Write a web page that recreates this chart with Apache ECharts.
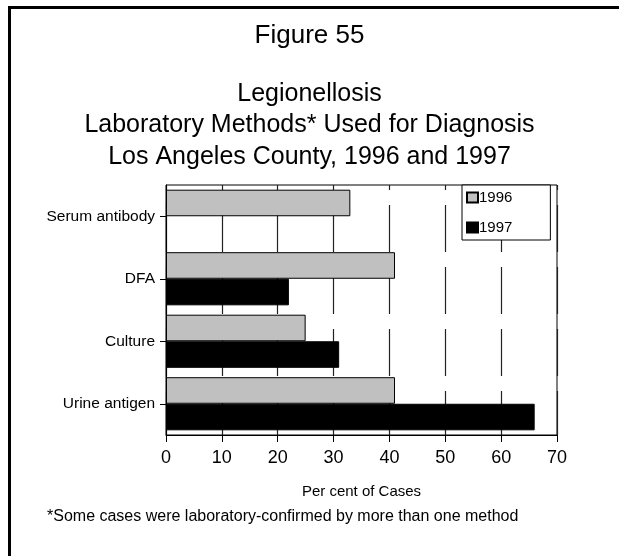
<!DOCTYPE html>
<html>
<head>
<meta charset="utf-8">
<script src="https://cdn.jsdelivr.net/npm/echarts@6/dist/echarts.min.js"></script>
<style>
  html, body { margin: 0; padding: 0; background: #fff; }
  #chart { width: 619px; height: 556px; }
</style>
</head>
<body>
<div id="chart"></div>
<script>
const categories = ['Serum antibody', 'DFA', 'Culture', 'Urine antigen'];
const values1996 = [33, 41, 25, 41];
const values1997 = [null, 22, 31, 66];
const xTicks = [0, 10, 20, 30, 40, 50, 60, 70];

const FONT = '"Liberation Sans", Arial, Helvetica, sans-serif';

const chart = echarts.init(document.getElementById('chart'));

const option = {
  backgroundColor: '#fff',
  animation: false,
  title: [
    {
      text: 'Figure 55',
      left: 'center',
      top: 18,
      textStyle: { fontFamily: FONT, fontSize: 26, fontWeight: 'normal', color: '#000' }
    },
    {
      text: 'Legionellosis\nLaboratory Methods* Used for Diagnosis\nLos Angeles County, 1996 and 1997',
      left: 'center',
      top: 73,
      textStyle: { fontFamily: FONT, fontSize: 25, fontWeight: 'normal', color: '#000', lineHeight: 31.5 }
    }
  ],
  legend: {
    orient: 'vertical',
    left: 462,
    top: 185,
    padding: [5, 38, 5, 4],
    backgroundColor: '#fff',
    borderColor: '#000',
    borderWidth: 1,
    borderRadius: 0,
    itemWidth: 11,
    itemHeight: 10,
    itemGap: 15,
    icon: 'rect',
    textStyle: { fontFamily: FONT, fontSize: 15, color: '#000', padding: [0, 0, 0, -4] },
    data: ['1996', '1997']
  },
  grid: {
    left: 166,
    top: 185,
    right: 62,
    bottom: 121,
    show: true,
    borderColor: '#000',
    borderWidth: 1,
    backgroundColor: 'transparent'
  },
  xAxis: {
    type: 'value',
    min: xTicks[0],
    max: xTicks[xTicks.length - 1],
    interval: 10,
    name: 'Per cent of Cases',
    nameLocation: 'middle',
    nameGap: 49,
    nameTextStyle: { fontFamily: FONT, fontSize: 15, color: '#000' },
    axisLine: { show: true, lineStyle: { color: '#000', width: 1 } },
    axisTick: { show: true, length: 7, lineStyle: { color: '#000' } },
    axisLabel: { fontFamily: FONT, fontSize: 18, color: '#000', margin: 14 },
    splitLine: {
      show: true,
      lineStyle: { color: '#222', width: 1.2, type: [47, 15], dashOffset: 42 }
    }
  },
  yAxis: {
    type: 'category',
    data: categories,
    inverse: true,
    axisLine: { show: true, lineStyle: { color: '#000', width: 1 } },
    axisTick: { show: true, alignWithLabel: true, length: 6, lineStyle: { color: '#000' } },
    axisLabel: { fontFamily: FONT, fontSize: 15.5, color: '#000', margin: 11, padding: [3, 0, 0, 0] },
    splitLine: { show: false }
  },
  series: [
    {
      name: '1996',
      type: 'bar',
      data: values1996,
      barGap: '0%',
      barCategoryGap: '15%',
      itemStyle: { color: '#c0c0c0', borderColor: '#000', borderWidth: 1 }
    },
    {
      name: '1997',
      type: 'bar',
      data: values1997,
      barGap: '0%',
      barCategoryGap: '15%',
      itemStyle: { color: '#000', borderColor: '#000', borderWidth: 1 }
    }
  ],
  graphic: [
    {
      type: 'text',
      left: 47,
      top: 509,
      style: {
        text: '*Some cases were laboratory-confirmed by more than one method',
        fontFamily: FONT,
        fontSize: 16,
        fill: '#000'
      }
    },
    {
      type: 'rect',
      shape: { x: 8, y: 6, width: 3, height: 550 },
      style: { fill: '#000' }
    },
    {
      type: 'rect',
      shape: { x: 8, y: 6, width: 611, height: 3 },
      style: { fill: '#000' }
    }
  ]
};

chart.setOption(option);
window.addEventListener('resize', () => chart.resize());
</script>
</body>
</html>
